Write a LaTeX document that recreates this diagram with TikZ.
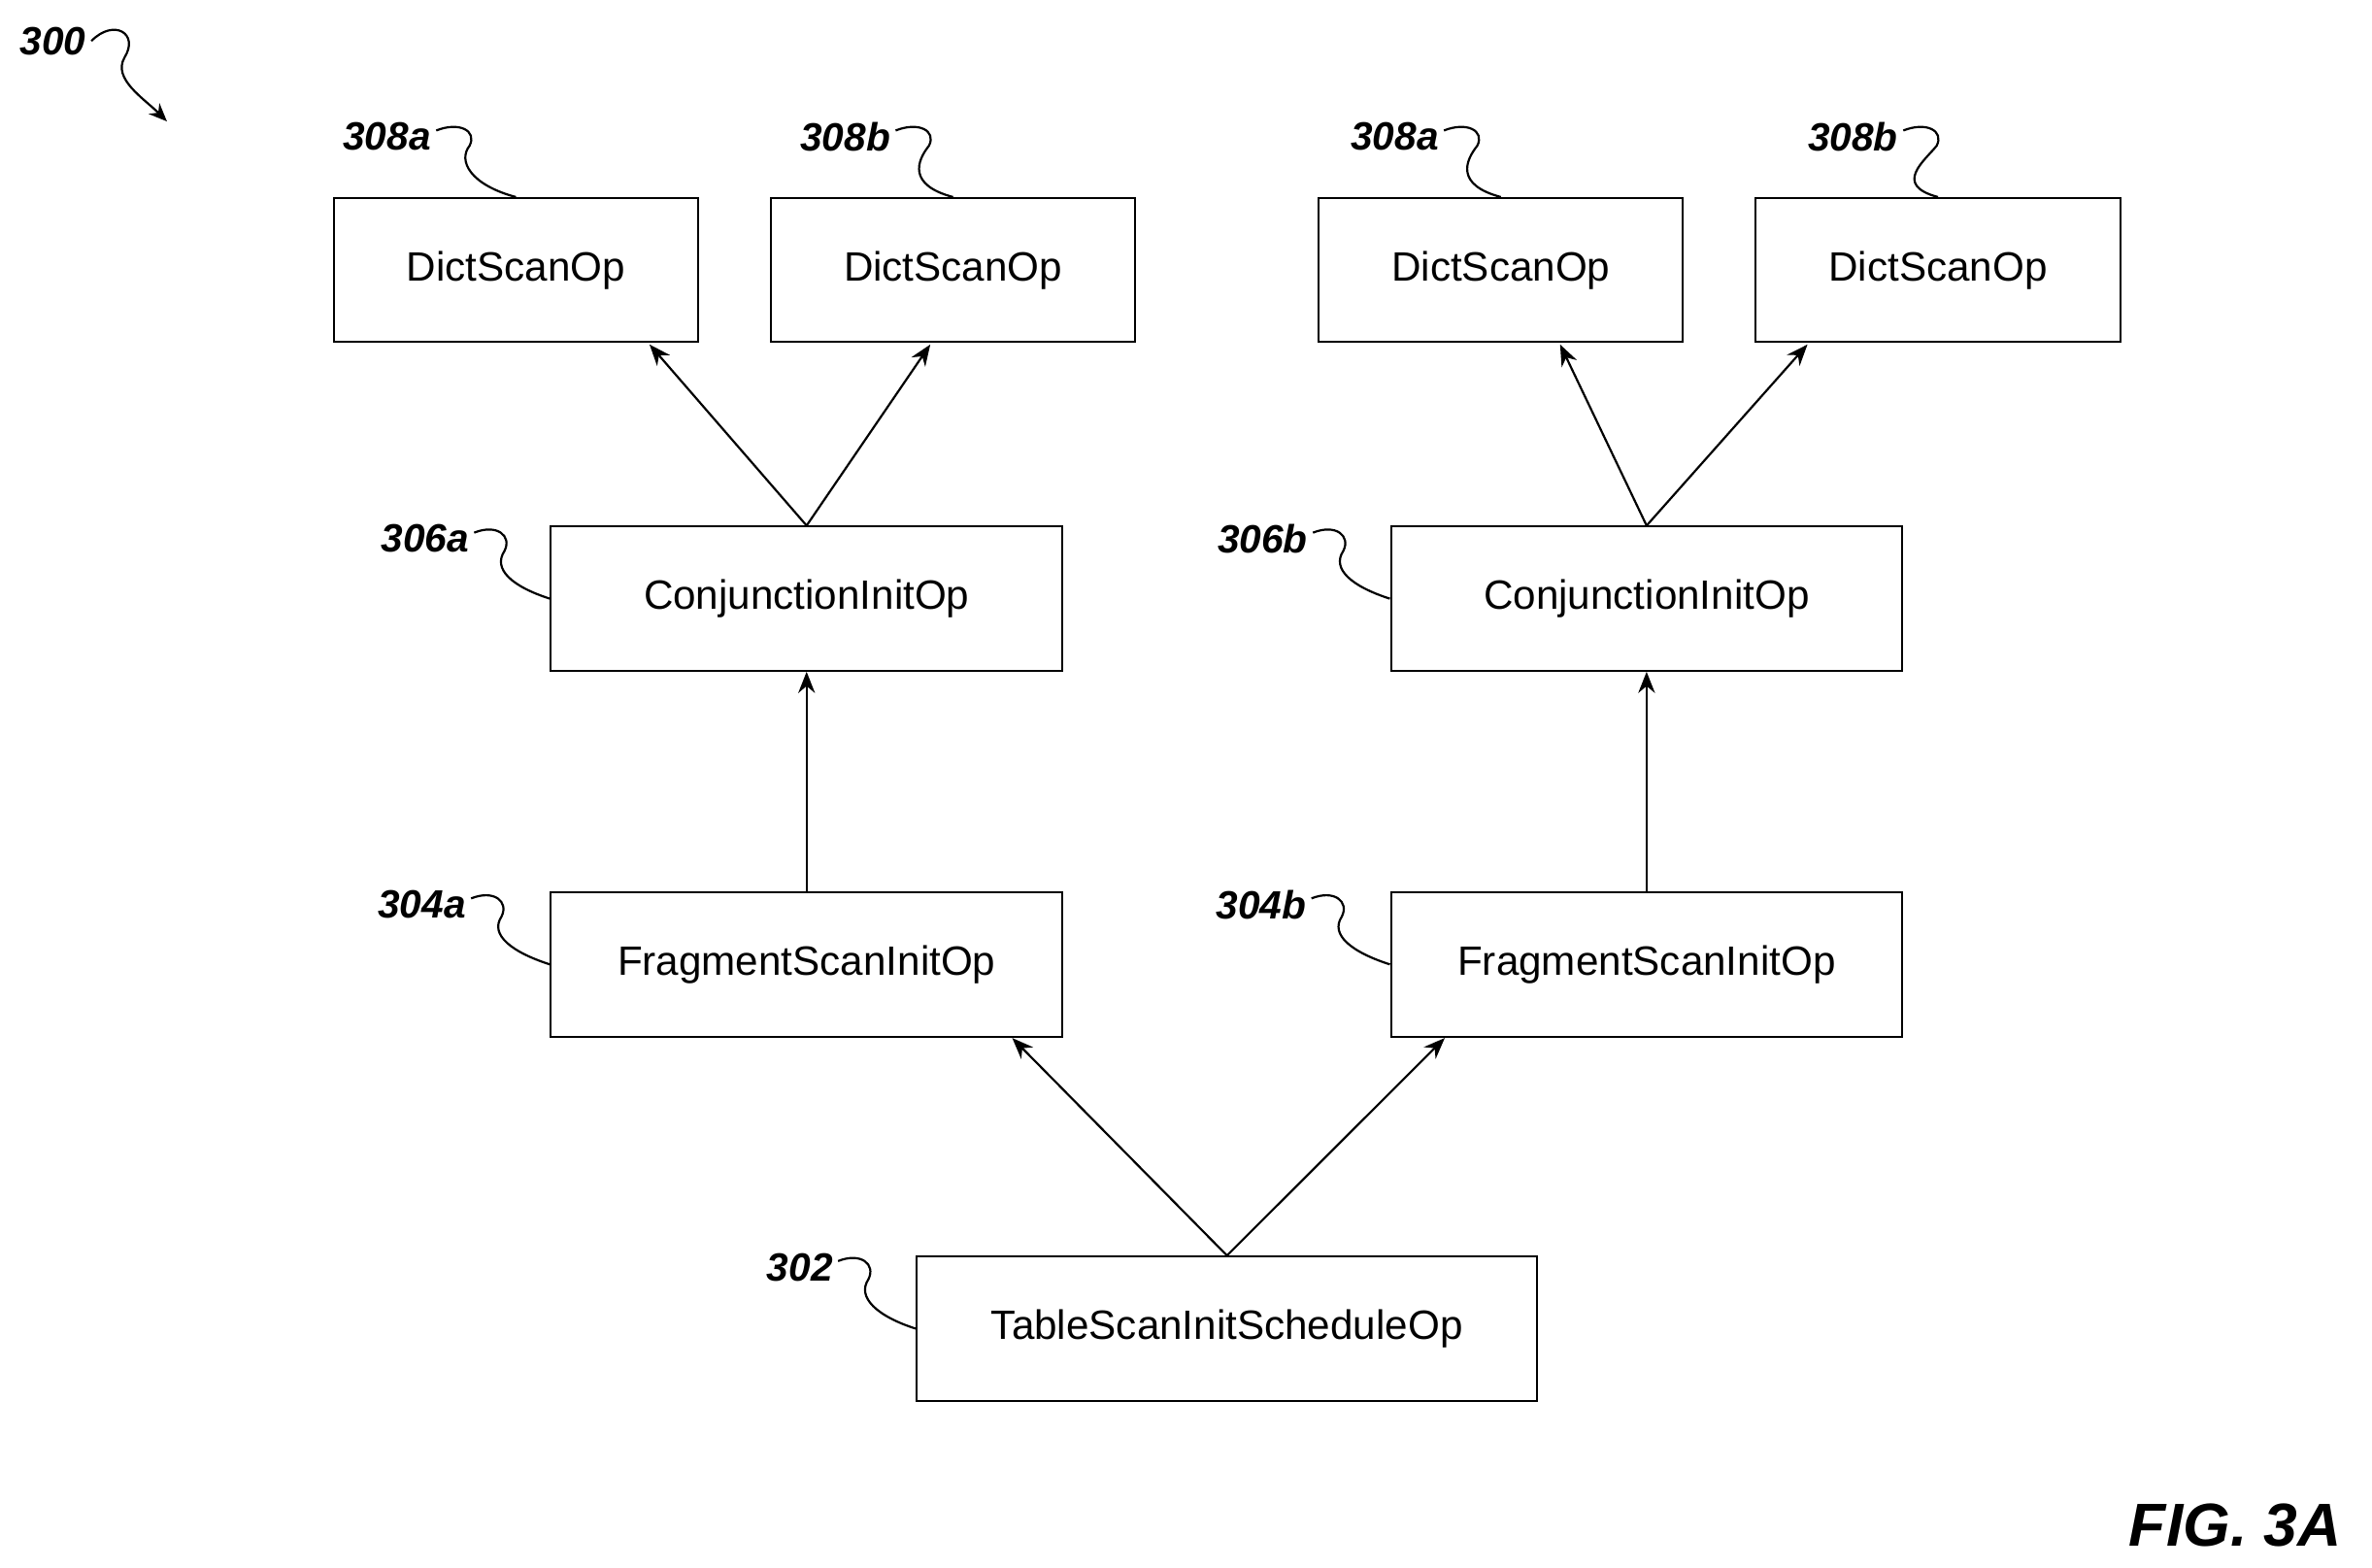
\documentclass[tikz,border=0pt]{standalone}
\usepackage{fontspec}
\setmainfont{Liberation Sans}
\usetikzlibrary{arrows.meta}
\begin{document}
\begin{tikzpicture}[x=1pt,y=-1pt,
 box/.style={draw,line width=1.3pt,minimum height=95pt,inner sep=0pt,font=\fontsize{27}{30}\selectfont},
 arr/.style={line width=1.4pt,-{Stealth[length=14pt,width=11pt]}},
 lead/.style={line width=1.4pt},
 lbl/.style={font=\fontsize{26}{30}\selectfont\bfseries\itshape}]
\useasboundingbox (0,0) rectangle (1563,1033);
\node[box,minimum width=240pt] (d1) at (340,178) {DictScanOp};
\node[box,minimum width=240pt] (d2) at (628,178) {DictScanOp};
\node[box,minimum width=240pt] (d3) at (989,178) {DictScanOp};
\node[box,minimum width=240pt] (d4) at (1277,178) {DictScanOp};
\node[box,minimum width=337pt] (c1) at (531.5,394.5) {ConjunctionInitOp};
\node[box,minimum width=337pt] (c2) at (1085,394.5) {ConjunctionInitOp};
\node[box,minimum width=337pt] (f1) at (531.5,635.5) {FragmentScanInitOp};
\node[box,minimum width=337pt] (f2) at (1085,635.5) {FragmentScanInitOp};
\node[box,minimum width=409pt] (t) at (808.5,875.5) {TableScanInitScheduleOp};
\coordinate (e1) at (428,227); \coordinate (e2) at (613,227);
\coordinate (e3) at (1028,227); \coordinate (e4) at (1191,227);
\coordinate (e5) at (667,684); \coordinate (e6) at (952,684);
\draw[arr] (c1.north) -- (e1); \draw[arr] (c1.north) -- (e2);
\draw[arr] (c2.north) -- (e3); \draw[arr] (c2.north) -- (e4);
\draw[arr] (f1.north) -- (c1.south); \draw[arr] (f2.north) -- (c2.south);
\draw[arr] (t.north) -- (e5); \draw[arr] (t.north) -- (e6);
% labels
\node[lbl] (l300) at (35,27) {300};
\node[lbl] (l1) at (255,90) {308a};
\node[lbl] (l2) at (557,90) {308b};
\node[lbl] (l3) at (919,90) {308a};
\node[lbl] (l4) at (1221,90) {308b};
\node[lbl] (l5) at (280,355) {306a};
\node[lbl] (l6) at (832,355) {306b};
\node[lbl] (l7) at (278,596) {304a};
\node[lbl] (l8) at (831,596) {304b};
\node[lbl] (l9) at (527,835) {302};
\node[font=\fontsize{40}{44}\selectfont\bfseries\itshape] (fig) at (1473,1005) {FIG. 3A};
\draw[lead,-{Stealth[length=12pt,width=10pt]}] (l300.east) .. controls (75,12) and (92,22) .. (82,38) .. controls (74,52) and (95,65) .. (110,80);
\foreach \l/\b in {l1/d1,l2/d2,l3/d3,l4/d4}{
 \draw[lead] (\l.east) ++(0,-4) .. controls +(15,-6) and +(5,-10) .. +(22,10) .. controls +(-8,10) and +(-30,-8) .. (\b.north);}
\foreach \l/\b in {l5/c1,l6/c2,l7/f1,l8/f2,l9/t}{
 \draw[lead] (\l.east) ++(0,-4) .. controls +(15,-6) and +(5,-10) .. +(20,12) .. controls +(-8,12) and +(-25,-8) .. (\b.west);}
\end{tikzpicture}
\end{document}
